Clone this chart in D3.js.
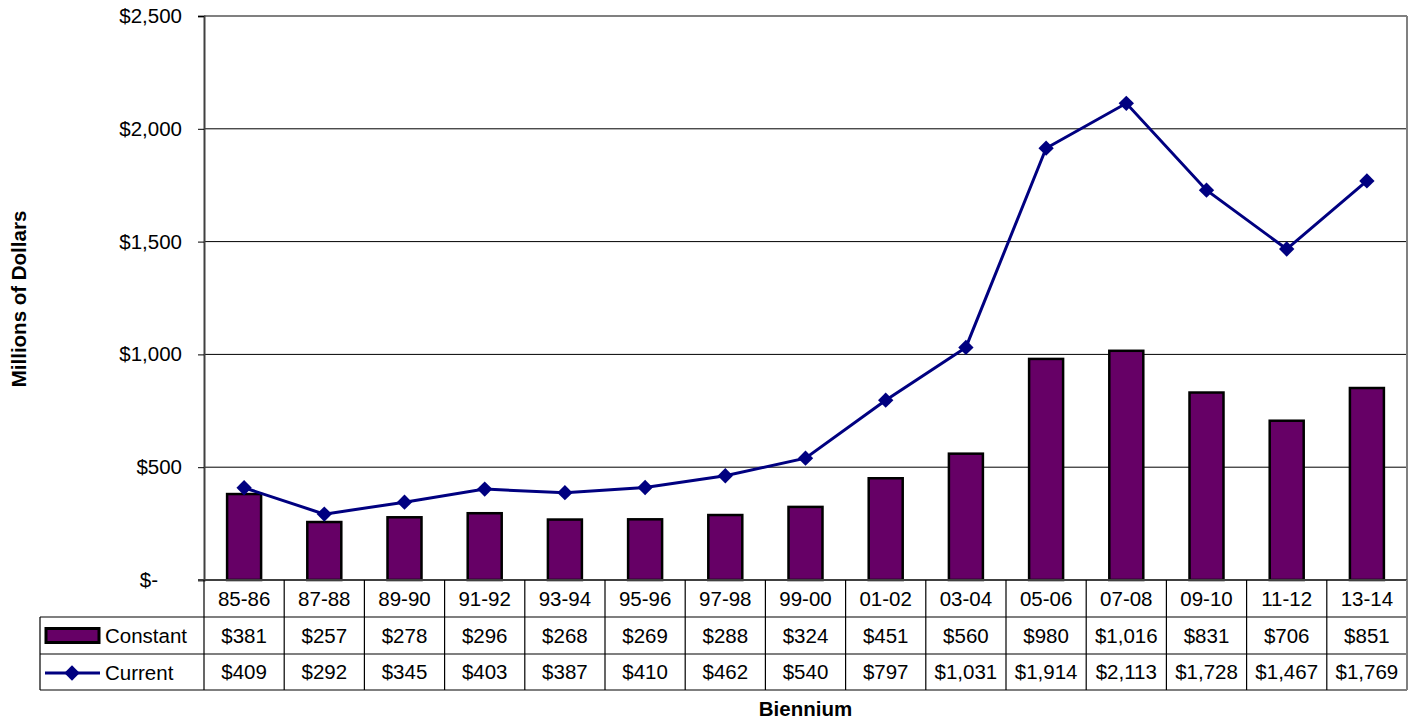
<!DOCTYPE html>
<html>
<head>
<meta charset="utf-8">
<script src="https://cdn.jsdelivr.net/npm/d3@7"></script>
<style>
  html, body { margin: 0; padding: 0; background: #fff; }
  svg { display: block; font-family: "Liberation Sans", Arial, sans-serif; }
</style>
</head>
<body>
<svg id="chart" width="1419" height="721"></svg>
<script>
// Biennium categories and the two spending series (millions of dollars)
const categories = ["85-86","87-88","89-90","91-92","93-94","95-96","97-98","99-00","01-02","03-04","05-06","07-08","09-10","11-12","13-14"];
const constantVals = [381,257,278,296,268,269,288,324,451,560,980,1016,831,706,851];
const currentVals  = [409,292,345,403,387,410,462,540,797,1031,1914,2113,1728,1467,1769];
const yTicks = [0,500,1000,1500,2000,2500];
const seriesNames = ["Constant","Current"];

const svg = d3.select("#chart");
const plot = { left: 204, right: 1407, top: 16, bottom: 580 };
const rowH = [37, 37, 36];           // category row, Constant row, Current row
const tableLeft = 40;
const fs = 20.5;

const x = d3.scaleBand().domain(categories).range([plot.left, plot.right]).paddingInner(0).paddingOuter(0);
const y = d3.scaleLinear().domain([0, 2500]).range([plot.bottom, plot.top]);

const barColor = "#660066";
const lineColor = "#000080";
const fmt = v => "$" + d3.format(",")(v);

// gridlines
svg.append("g")
  .selectAll("line")
  .data(yTicks.filter(t => t > 0 && t < 2500))
  .join("line")
  .attr("x1", plot.left).attr("x2", plot.right)
  .attr("y1", d => y(d)).attr("y2", d => y(d))
  .attr("stroke", "#000").attr("stroke-width", 1);

// plot frame: top and right in gray
svg.append("line").attr("x1", plot.left).attr("x2", plot.right).attr("y1", y(2500)).attr("y2", y(2500))
  .attr("stroke", "#808080").attr("stroke-width", 2);
svg.append("line").attr("x1", plot.right).attr("x2", plot.right).attr("y1", y(2500)).attr("y2", plot.bottom)
  .attr("stroke", "#808080").attr("stroke-width", 2);

// y axis
const yAxis = d3.axisLeft(y).tickValues(yTicks).tickSize(6).tickPadding(16)
  .tickFormat(d => d === 0 ? "$-" : fmt(d));
const ya = svg.append("g").attr("transform", `translate(${plot.left},0)`).call(yAxis);
ya.select(".domain").attr("stroke", "#404040").attr("stroke-width", 2);
ya.selectAll(".tick line").attr("stroke", "#000");
ya.selectAll(".tick text").attr("font-size", fs).attr("fill", "#000")
  .attr("font-family", "Liberation Sans, Arial, sans-serif");
ya.selectAll(".tick text").filter(d => d === 0).attr("dx", -24);

// bars
const barW = 34;
svg.append("g")
  .selectAll("rect")
  .data(categories.map((c, i) => ({ c, v: constantVals[i] })))
  .join("rect")
  .attr("x", d => x(d.c) + x.bandwidth() / 2 - barW / 2)
  .attr("width", barW)
  .attr("y", d => y(d.v))
  .attr("height", d => y(0) - y(d.v))
  .attr("fill", barColor).attr("stroke", "#000").attr("stroke-width", 2.5);

// current dollars line
const pts = categories.map((c, i) => ({ c, v: currentVals[i] }));
svg.append("path")
  .datum(pts)
  .attr("fill", "none").attr("stroke", lineColor).attr("stroke-width", 3)
  .attr("d", d3.line().x(d => x(d.c) + x.bandwidth() / 2).y(d => y(d.v)));
const diamond = d3.symbol().type(d3.symbolDiamond2).size(150);
svg.append("g")
  .selectAll("path")
  .data(pts)
  .join("path")
  .attr("transform", d => `translate(${x(d.c) + x.bandwidth() / 2},${y(d.v)})`)
  .attr("d", diamond)
  .attr("fill", lineColor);

// bottom axis line
svg.append("line").attr("x1", plot.left - 6).attr("x2", plot.right).attr("y1", plot.bottom).attr("y2", plot.bottom)
  .attr("stroke", "#404040").attr("stroke-width", 2);

// data table
const rowTop = [plot.bottom, plot.bottom + rowH[0], plot.bottom + rowH[0] + rowH[1]];
const tableBottom = rowTop[2] + rowH[2];
const tbl = svg.append("g").attr("stroke", "#000").attr("stroke-width", 1.2);
// horizontal lines
tbl.append("line").attr("x1", tableLeft).attr("x2", plot.right).attr("y1", rowTop[1]).attr("y2", rowTop[1]);
tbl.append("line").attr("x1", tableLeft).attr("x2", plot.right).attr("y1", rowTop[2]).attr("y2", rowTop[2]);
tbl.append("line").attr("x1", tableLeft).attr("x2", plot.right).attr("y1", tableBottom).attr("y2", tableBottom);
tbl.append("line").attr("x1", tableLeft).attr("x2", tableLeft).attr("y1", rowTop[1]).attr("y2", tableBottom);
// column separators
const colEdges = categories.map(c => x(c)).concat([plot.right]);
tbl.selectAll("line.col").data(colEdges).join("line").attr("class", "col")
  .attr("x1", d => d).attr("x2", d => d)
  .attr("y1", plot.bottom).attr("y2", tableBottom);
svg.append("line").attr("x1", plot.right).attr("x2", plot.right).attr("y1", plot.bottom).attr("y2", tableBottom)
  .attr("stroke", "#808080").attr("stroke-width", 2);

const cellText = (row, vals) => svg.append("g")
  .selectAll("text")
  .data(categories.map((c, i) => ({ c, t: vals[i] })))
  .join("text")
  .attr("x", d => x(d.c) + x.bandwidth() / 2)
  .attr("y", rowTop[row] + rowH[row] / 2 + 7)
  .attr("text-anchor", "middle").attr("font-size", fs).attr("fill", "#000")
  .text(d => d.t);
cellText(0, categories);
cellText(1, constantVals.map(fmt));
cellText(2, currentVals.map(fmt));

// legend keys in the table
const legCy1 = rowTop[1] + rowH[1] / 2;
svg.append("rect").attr("x", 46).attr("y", legCy1 - 7).attr("width", 53).attr("height", 14)
  .attr("fill", barColor).attr("stroke", "#000").attr("stroke-width", 3);
svg.append("text").attr("x", 105).attr("y", legCy1 + 7).attr("font-size", fs).text(seriesNames[0]);
const legCy2 = rowTop[2] + rowH[2] / 2 + 1;
svg.append("line").attr("x1", 45).attr("x2", 100).attr("y1", legCy2).attr("y2", legCy2)
  .attr("stroke", lineColor).attr("stroke-width", 3);
svg.append("path").attr("transform", `translate(72,${legCy2})`).attr("d", diamond).attr("fill", lineColor);
svg.append("text").attr("x", 105).attr("y", legCy2 + 7).attr("font-size", fs).text(seriesNames[1]);

// axis titles
svg.append("text")
  .attr("transform", `translate(26,299) rotate(-90)`)
  .attr("text-anchor", "middle").attr("font-size", fs).attr("font-weight", "bold")
  .text("Millions of Dollars");
svg.append("text")
  .attr("x", (plot.left + plot.right) / 2).attr("y", 716)
  .attr("text-anchor", "middle").attr("font-size", fs).attr("font-weight", "bold")
  .text("Biennium");
</script>
</body>
</html>
